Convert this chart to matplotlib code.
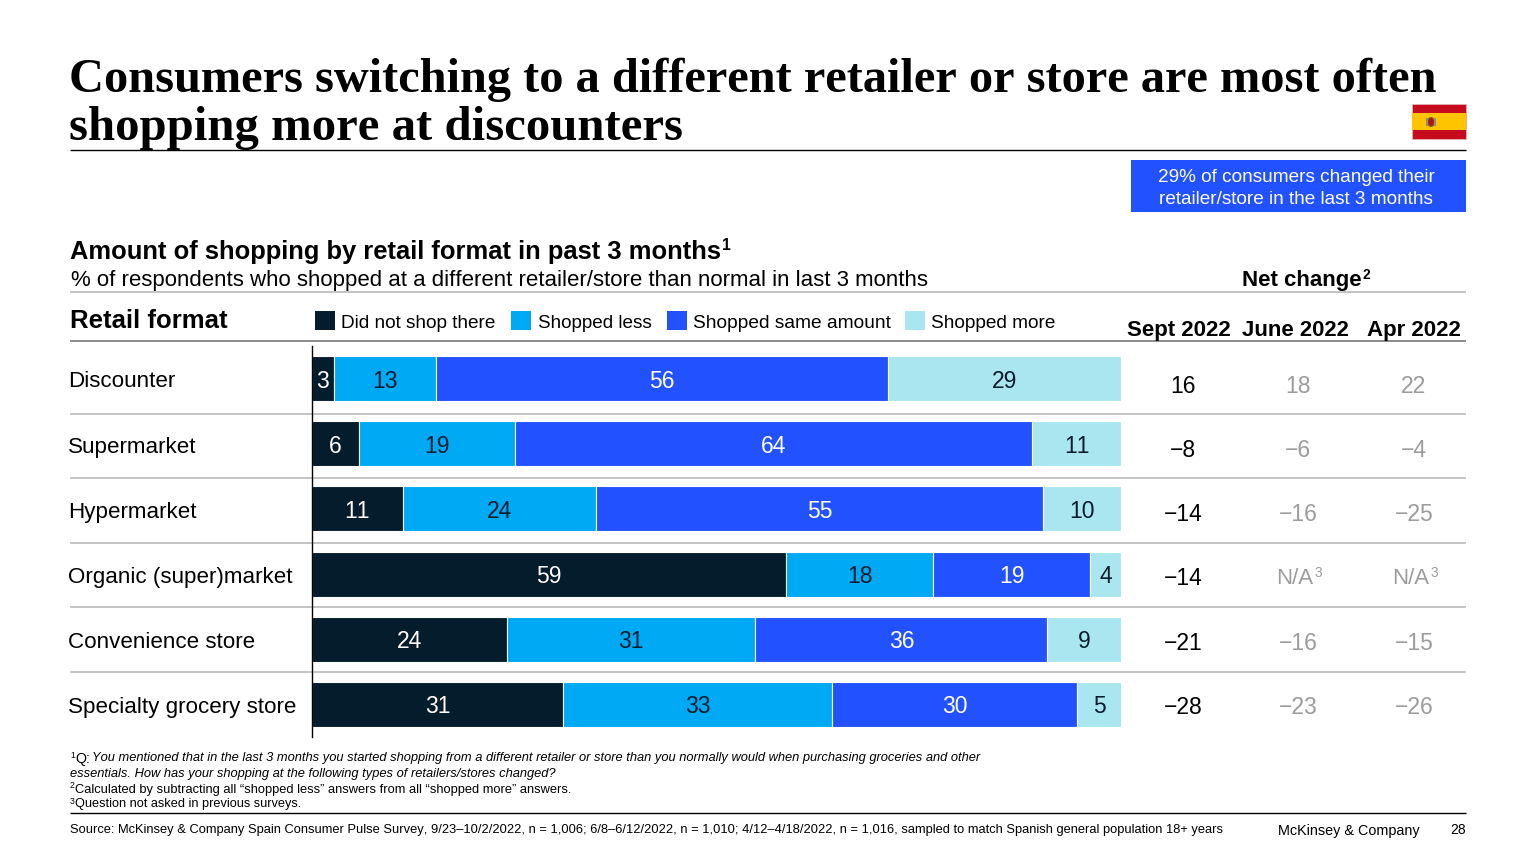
import matplotlib
matplotlib.use("Agg")
import matplotlib.pyplot as plt
from matplotlib.patches import Rectangle, Ellipse

plt.rcParams["text.kerning_factor"] = 6

SANS = "Liberation Sans"
SERIF = "Liberation Serif"
DARK, LESS, SAME, MORE = "#051C2C", "#00A9F4", "#2251FF", "#AAE6F0"
GREY = "#9c9c9c"

categories = ["Discounter", "Supermarket", "Hypermarket", "Organic (super)market",
              "Convenience store", "Specialty grocery store"]
# Printed labels
did_not_shop = [3, 6, 11, 59, 24, 31]
shopped_less = [13, 19, 24, 18, 31, 33]
shopped_same = [56, 64, 55, 19, 36, 30]
shopped_more = [29, 11, 10, 4, 9, 5]
# Unrounded lengths
did_not_shop_len = [2.7, 5.8, 11.2, 58.6, 24.1, 31.0]
shopped_less_len = [12.6, 19.3, 23.9, 18.2, 30.7, 33.3]
shopped_same_len = [55.9, 63.9, 55.3, 19.4, 36.1, 30.2]
shopped_more_len = [28.8, 11.0, 9.6, 3.8, 9.1, 5.6]
series_names = ["Did not shop there", "Shopped less", "Shopped same amount", "Shopped more"]
net_sept = ["16", "−8", "−14", "−14", "−21", "−28"]
net_june = ["18", "−6", "−16", "N/A", "−16", "−23"]
net_apr = ["22", "−4", "−25", "N/A", "−15", "−26"]
net_headers = ["Sept 2022", "June 2022", "Apr 2022"]

fig = plt.figure(figsize=(15.36, 8.64), dpi=100, facecolor="white")
ov = fig.add_axes([0, 0, 1, 1], zorder=1)
ov.set_xlim(0, 1536); ov.set_ylim(864, 0); ov.axis("off")
ov.patch.set_alpha(0)
renderer = fig.canvas.get_renderer()


def put(x, y, s, width=None, size=16.5, color="black", family=SANS, weight="normal",
        style="normal", ha="left", sup=None):
    t = ov.text(x, y, s, fontsize=size, color=color, family=family, weight=weight,
                style=style, ha=ha, va="center_baseline")
    if width:
        w = t.get_window_extent(renderer).width
        t.set_fontsize(size * width / w)
    if sup:
        fs = t.get_fontsize()
        ext = t.get_window_extent(renderer)
        ov.text(ext.x1 + 1, y - fs * 0.28, sup, fontsize=fs * 0.62, color=color, family=family,
                weight=weight, ha="left", va="center_baseline")
    return t


def rule(y, x0=70, x1=1466, color="#c4c4c4", lw=1.4):
    ov.plot([x0, x1], [y, y], color=color, lw=lw, solid_capstyle="butt")


# Titles
put(69, 75, "Consumers switching to a different retailer or store are most often",
    width=1364, size=30, family=SERIF, weight="bold")
put(69, 123, "shopping more at discounters", width=613, size=30, family=SERIF, weight="bold")
rule(150, color="black", lw=1.0)

# Flag
ov.add_patch(Rectangle((1412, 104), 54, 35, fc="#C60B1E", ec="#e8b0b0", lw=0.6))
ov.add_patch(Rectangle((1412, 113), 54, 17, fc="#FFC400", ec="none"))
ov.add_patch(Ellipse((1431, 122), 7, 9, fc="#AD1519", ec="#8a6d1f", lw=0.9))
ov.add_patch(Rectangle((1426, 118), 2, 8, fc="#9a8a70", ec="none"))
ov.add_patch(Rectangle((1434, 118), 2, 8, fc="#9a8a70", ec="none"))

# Callout
ov.add_patch(Rectangle((1131, 160), 335, 52, fc=SAME, ec="none"))
put(1158, 175, "29% of consumers changed their", width=280, size=14, color="white")
put(1159, 198, "retailer/store in the last 3 months", width=278, size=14, color="white")

# Chart headers
put(70, 249, "Amount of shopping by retail format in past 3 months", width=652, size=18,
    weight="bold", sup="1")
put(71, 278, "% of respondents who shopped at a different retailer/store than normal in last 3 months",
    width=859, size=16)
put(1242, 278, "Net change", width=120, size=16, weight="bold", sup="2")
rule(292)
put(70, 318, "Retail format", width=157, size=18, weight="bold")

# Legend
for name, col, px, tx, tw in zip(series_names, [DARK, LESS, SAME, MORE],
                                 [315, 511, 667, 905], [341, 538, 693, 931],
                                 [156, 115, 198, 125]):
    ov.add_patch(Rectangle((px, 311), 20, 19, fc=col, ec="none"))
    put(tx, 322, name, width=tw, size=14.5)

for s, x0, w in zip(net_headers, [1127, 1242, 1367], [104, 107, 94]):
    put(x0, 328, s, width=w, size=16, weight="bold")
rule(341, color="#8c8c8c")

# Row rules
for y in [414, 478, 543, 607, 672]:
    rule(y)

# Bars
ax = fig.add_axes([312 / 1536, 1 - 737 / 864, (1121 - 312) / 1536, (737 - 346) / 864], zorder=2)
ax.patch.set_alpha(0)
ax.set_xlim(0, 100)
ax.set_ylim(5.50, -0.50)
ax.set_xticks([]); ax.set_yticks([])
for side in ["top", "right", "bottom"]:
    ax.spines[side].set_visible(False)
ax.spines["left"].set_color("black")
ax.spines["left"].set_linewidth(1.0)

rows = list(range(len(categories)))
lefts = [0.0] * len(categories)
for lens, vals, col, txt in [(did_not_shop_len, did_not_shop, DARK, "white"),
                             (shopped_less_len, shopped_less, LESS, "#051C2C"),
                             (shopped_same_len, shopped_same, SAME, "white"),
                             (shopped_more_len, shopped_more, MORE, "#051C2C")]:
    ax.barh(rows, lens, left=lefts, height=0.69, color=col, edgecolor="white", linewidth=0.8)
    for i, (w, v) in enumerate(zip(lens, vals)):
        ax.text(lefts[i] + w / 2, i, str(v), ha="center", va="center_baseline", fontsize=16.5,
                color=txt, family=SANS)
    lefts = [l + w for l, w in zip(lefts, lens)]

# Row labels and net change
label_y = [379, 445, 510, 575, 640, 705]
net_y = [384, 448, 512, 576, 641, 705]
for i, name in enumerate(categories):
    put(68, label_y[i], name, size=16.1)
    put(1183, net_y[i], net_sept[i], size=16.5, ha="center")
    if net_june[i] == "N/A":
        put(1276, net_y[i], net_june[i], width=37, size=16.5, color=GREY, sup="3")
        put(1392, net_y[i], net_apr[i], width=37, size=16.5, color=GREY, sup="3")
    else:
        put(1298, net_y[i], net_june[i], size=16.5, color=GREY, ha="center")
        put(1414, net_y[i], net_apr[i], size=16.5, color=GREY, ha="center")

# Footnotes
def foot_sup(y, s):
    ov.text(70, y - 3, s, fontsize=6.2, family=SANS, va="center_baseline")

foot_sup(757, "1")
put(75, 757, "Q:", width=15, size=9.5)
put(92, 757, "You mentioned that in the last 3 months you started shopping from a different retailer or store than you normally would when purchasing groceries and other",
    width=889, size=9.5, style="italic")
put(70, 773, "essentials. How has your shopping at the following types of retailers/stores changed?",
    width=485, size=9.5, style="italic")
foot_sup(788, "2")
put(75, 788, "Calculated by subtracting all “shopped less” answers from all “shopped more” answers.",
    width=494, size=9.5)
foot_sup(803, "3")
put(75, 803, "Question not asked in previous surveys.", width=227, size=9.5)
rule(813, color="black", lw=1.0)
put(70, 828, "Source: McKinsey & Company Spain Consumer Pulse Survey, 9/23–10/2/2022, n = 1,006; 6/8–6/12/2022, n = 1,010; 4/12–4/18/2022, n = 1,016, sampled to match Spanish general population 18+ years",
    width=1150, size=9.5)
put(1278, 829, "McKinsey & Company", width=142, size=10)
put(1466, 829, "28", size=10, ha="right")

fig.savefig("out.png", dpi=100)
